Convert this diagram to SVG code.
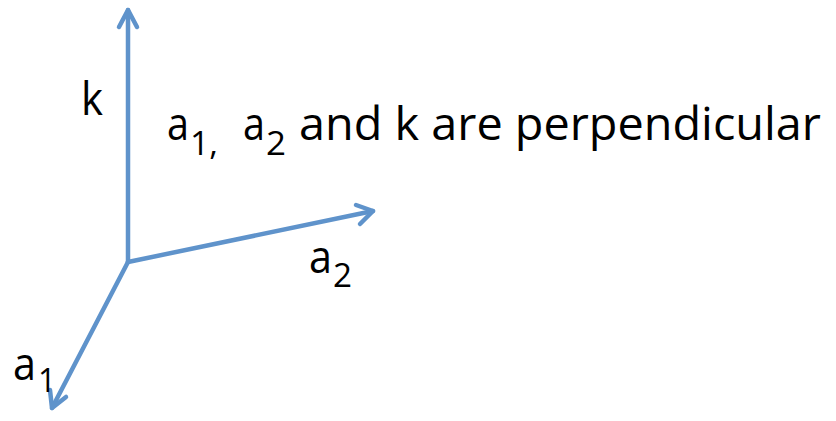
<svg xmlns="http://www.w3.org/2000/svg" width="836" height="421" viewBox="0 0 836 421">
<style>
.ax{stroke:#5f93cb;stroke-width:4.5;fill:none;stroke-linecap:round;stroke-linejoin:round}
.t{font-family:"Open Sans","Liberation Sans",sans-serif;font-size:45px;fill:#000}
.s{font-size:32px}
</style>
<rect width="836" height="421" fill="#fff"/>
<g id="connectors">
<path class="ax" d="M128,262 L128,10"/>
<path class="ax" d="M119,27 L128,10 L137,27"/>
<path class="ax" d="M128,262 L373,211"/>
<path class="ax" d="M356,205 L373,211 L360,224"/>
<path class="ax" d="M128,262 L52,408"/>
<path class="ax" d="M50,390 L52,408 L66,397"/>
</g>
<g id="label-k"><text class="t" x="81" y="115" textLength="22" lengthAdjust="spacingAndGlyphs">k</text></g>
<g id="label-a2"><text class="t" x="309" y="273" textLength="23" lengthAdjust="spacingAndGlyphs">a</text><text class="t s" x="333" y="287" textLength="19" lengthAdjust="spacingAndGlyphs">2</text></g>
<g id="label-a1"><text class="t" x="13" y="380" textLength="23" lengthAdjust="spacingAndGlyphs">a</text><text class="t s" x="38" y="392" textLength="18" lengthAdjust="spacingAndGlyphs">1</text></g>
<g id="caption">
<text class="t" x="167" y="140" textLength="22" lengthAdjust="spacingAndGlyphs">a</text>
<text class="t s" x="190" y="155" textLength="28" lengthAdjust="spacingAndGlyphs">1,</text>
<text class="t" x="243" y="140" textLength="22" lengthAdjust="spacingAndGlyphs">a</text>
<text class="t s" x="266" y="155" textLength="20" lengthAdjust="spacingAndGlyphs">2</text>
<text class="t" x="299" y="140" textLength="522" lengthAdjust="spacingAndGlyphs">and  k are perpendicular</text>
</g>
</svg>
